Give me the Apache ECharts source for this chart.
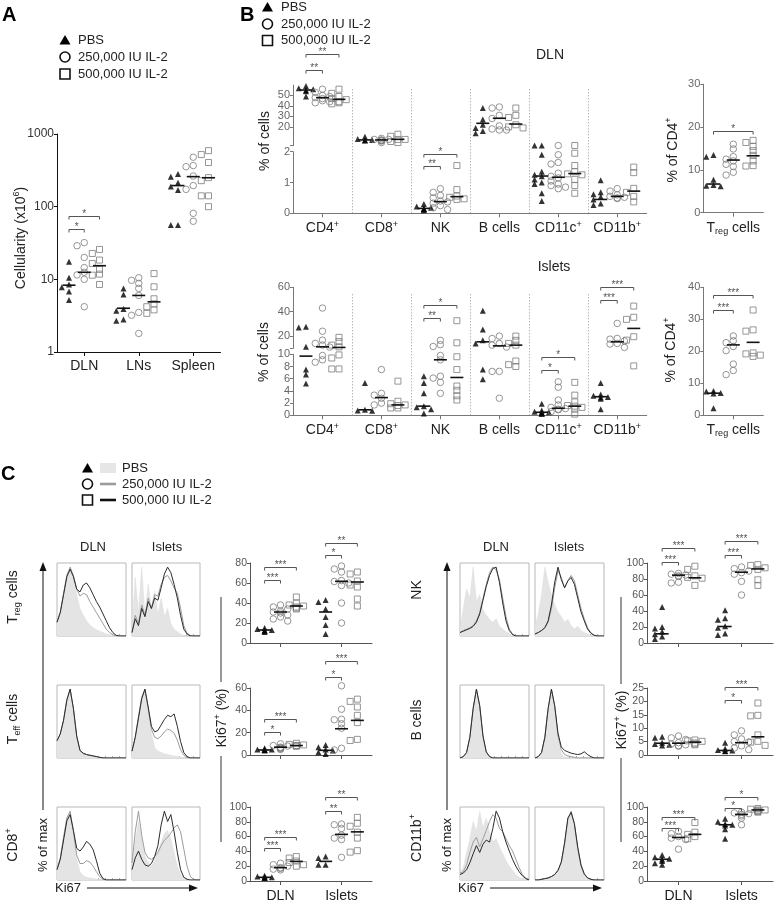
<!DOCTYPE html>
<html><head><meta charset="utf-8">
<script src="https://cdn.jsdelivr.net/npm/echarts@6/dist/echarts.min.js"></script>
<style>html,body{margin:0;padding:0;background:#fff}#c{width:776px;height:905px}</style>
</head><body><div id="c"></div>
<script>
// ================= DATA =================
const groupNames = ['PBS', '250,000 IU IL-2', '500,000 IU IL-2'];

// Panel A: cellularity (x10^6), per category
const aCats = ['DLN', 'LNs', 'Spleen'];
const aPBS = [[10.5, 17.5, 8.5, 7.8, 5.2, 6.8], [7.5, 6.2, 3.9, 3.7, 2.7, 2.8], [259, 282, 214, 189, 170, 56, 56]];
const a250 = [[32, 29, 20, 14.5, 12.5, 11.5, 10, 4.2], [10.5, 9.7, 8.8, 7.5, 6.0, 3.5, 3.2, 1.8], [479, 368, 355, 264, 195, 173, 81, 63]];
const a500 = [[25.8, 22.7, 18.4, 16.5, 13.7, 11.8, 11.4, 8.5], [12, 7.9, 5.4, 4.6, 4.2, 3.8, 3.4], [590, 521, 405, 251, 228, 141, 141, 100]];
const aMed = [[8.3, 12.5, 15.4], [4.0, 6.0, 4.9], [195, 259, 250]];
const aSig = [[0, 0, 1, 50, '*'], [0, 0, 2, 74, '*']];

// Panel B: % of cells
const bCats = ['CD4{s|+}', 'CD8{s|+}', 'NK', 'B cells', 'CD11c{s|+}', 'CD11b{s|+}'];
const dlnPBS = [[59, 57, 56, 55, 54, 49], [10.5, 8.5, 7.5, 7, 7.2], [0.3, 0.22, 0.18, 0.15, 0.14, 0.12, 0.1], [38, 27, 22, 19, 16, 14], [2.2, 2.2, 1.9, 1.35, 1.25, 1.2, 1.1, 1.0, 0.95, 0.65, 0.4], [1.07, 0.68, 0.62, 0.54, 0.45, 0.32, 0.27]];
const dln250 = [[56, 53, 50, 49, 48, 47, 45, 44, 43], [9, 8, 7.5, 7, 7, 6.5, 5, 8], [0.8, 0.68, 0.58, 0.5, 0.4, 0.37, 0.33, 0.25, 0.18, 0.12], [39, 38, 31, 28, 21, 18, 17, 17], [2.2, 1.9, 1.65, 1.6, 1.3, 1.2, 1.15, 1.05, 0.95, 0.9, 0.85, 0.8], [0.8, 0.72, 0.6, 0.55, 0.52, 0.5, 0.48]];
const dln500 = [[56, 52, 49, 47, 46, 44, 43, 42], [13, 11, 8, 6, 5, 8], [1.55, 0.77, 0.56, 0.52, 0.47, 0.45], [38, 31, 29, 22, 20, 19], [2.2, 1.95, 1.55, 1.35, 1.28, 1.25, 1.1, 0.9, 0.65], [1.5, 1.32, 0.81, 0.68, 0.55, 0.37]];
const dlnMed = [[55.2, 47.9, 46.3], [7.5, 7.5, 8.1], [0.16, 0.38, 0.54], [23.4, 28.2, 22.7], [1.21, 1.17, 1.29], [0.45, 0.55, 0.72]];
const dlnSig = [[0, 0, 1, 74, '**'], [0, 0, 2, 90, '**'], [2, 0, 1, 1.53, '**'], [2, 0, 2, 1.94, '*']];

const isPBS = [[27.7, 27, 11.2, 7.5, 6.7, 5.2], [5.3, 0.9, 0.8, 0.75], [6.4, 5.3, 3.6, 1.5, 1.3, 1.0, 0.3], [40.8, 25.5, 16.7, 14, 7.5, 5.9], [1.9, 0.8, 0.6, 0.5, 0.4, 0.35, 0.3, 0.25], [5.3, 3.4, 3.2, 3.0, 2.9, 2.7, 1.0]];
const is250 = [[43, 24, 16.7, 14, 12.7, 11, 9.8, 9.1, 8.7], [7.5, 3.6, 3.3, 2.8, 2.0, 1.7], [16.5, 13, 11.5, 9.8, 9.1, 6.4, 6.1, 5.4, 3.6], [20, 18, 14, 12.6, 11, 7.2, 7.2, 2.8], [5.5, 4.6, 2.5, 1.7, 1.3, 1.1, 1.0, 0.9, 0.6], [30.4, 18.1, 17.5, 16, 14, 13.5, 10.7]];
const is500 = [[19, 15.5, 12.6, 11.2, 9.9, 9.4, 7.6, 7.6], [5.6, 2.3, 1.9, 1.7, 1.6, 1.2, 1.2], [32.6, 14.5, 9.6, 7.5, 4.8, 4.1, 3.2, 2.5], [20, 16.5, 14, 12.6, 8.9, 8.3, 8.0], [5.4, 3.3, 2.2, 1.6, 1.5, 1.3, 1.0, 0.2], [44.6, 35.4, 33.7, 19.5, 16.7, 8.1]];
const isMed = [[9.7, 11.2, 10.7], [0.9, 2.9, 1.7], [1.5, 9.1, 6.2], [15.3, 12, 12.6], [0.5, 1.15, 1.5], [3.05, 15.3, 26.3]];
const isSig = [[2, 0, 1, 34.5, '**'], [2, 0, 2, 45.5, '*'], [4, 0, 1, 7.4, '*'], [4, 0, 2, 9.5, '*'], [5, 0, 1, 49.6, '***'], [5, 0, 2, 60.5, '***']];

// Treg % of CD4+
const tregCat = ['T{b|reg} cells'];
const tregDlnPBS = [[13.5, 13.1, 7.7, 6.5, 6.2, 6.3]];
const tregDln250 = [[16, 14.9, 13.1, 12.5, 12.1, 11.3, 10.8, 9.45, 8.8]];
const tregDln500 = [[16.9, 16.4, 15.5, 14.5, 13.4, 12.1, 11, 10.9]];
const tregDlnMed = [[6.7, 12.3, 13.3]];
const tregDlnSig = [[0, 0, 2, 19, '*']];
const tregIsPBS = [[7.6, 7.4, 7.0, 6.8, 2.2]];
const tregIs250 = [[24.8, 23.3, 22.7, 21.5, 20.2, 16, 14, 12.7]];
const tregIs500 = [[32.9, 26.7, 26.3, 19.5, 19.2, 18.4, 18.8]];
const tregIsMed = [[6.9, 22, 22.8]];
const tregIsSig = [[0, 0, 1, 33, '***'], [0, 0, 2, 37.7, '***']];

// Panel C: Ki67+ (%)
const cCats = ['DLN', 'Islets'];
const kTregPBS = [[15, 14, 13, 12.5, 12, 11], [43, 41, 34, 26, 18, 9]];
const kTreg250 = [[38, 36, 34, 32, 31, 30, 28, 26, 24, 22], [77, 74, 71, 62.5, 61.5, 60, 57.5, 40, 20]];
const kTreg500 = [[46, 40, 38, 37, 36, 35, 34], [71, 69, 62, 58, 56, 44, 37]];
const kTregMed = [[13, 31, 37], [31, 61.7, 61]];
const kTregSig = [[0, 0, 1, 63, '***'], [0, 0, 2, 76, '***'], [1, 0, 1, 88, '*'], [1, 0, 2, 100, '**']];

const kTeffPBS = [[6, 5, 4.5, 4, 4.5, 5], [9, 7, 5, 4, 2.5, 1]];
const kTeff250 = [[10, 8.5, 8, 7, 6.5, 6, 5.5, 5], [62, 41, 32, 31.6, 28, 24, 6, 4.5]];
const kTeff500 = [[10.5, 9.5, 9, 8.5, 8, 8], [50, 48, 43, 35.5, 29, 14, 13]];
const kTeffMed = [[4.5, 7, 8.5], [4.2, 23.5, 31]];
const kTeffSig = [[0, 0, 1, 21, '*'], [0, 0, 2, 32, '***'], [1, 0, 1, 70, '*'], [1, 0, 2, 84, '***']];

const kCD8PBS = [[7, 6, 5, 5, 4, 4.5], [33, 31, 22, 22]];
const kCD8250 = [[24, 22, 20, 18, 17, 16, 15], [77, 76, 71, 62, 58, 56, 32]];
const kCD8500 = [[33, 31, 27, 25, 22, 20], [86, 78, 74, 66, 58, 41, 39]];
const kCD8Med = [[5, 18, 26.5], [26.5, 63, 66.4]];
const kCD8Sig = [[0, 0, 1, 44.5, '***'], [0, 0, 2, 58.8, '***'], [1, 0, 1, 95, '**'], [1, 0, 2, 113, '**']];

const kNKPBS = [[45, 20, 18, 14, 11, 8, 5], [41, 31, 29, 21, 19, 12, 10]];
const kNK250 = [[87, 86, 85, 84, 83, 76, 75], [95, 93, 90, 88, 86, 77, 60]];
const kNK500 = [[96, 92, 84, 82, 81, 72], [98, 97, 94, 92, 79, 72]];
const kNKMed = [[11.5, 84.8, 81.5], [20.6, 88.5, 92.6]];
const kNKSig = [[0, 0, 1, 101, '***'], [0, 0, 2, 118.5, '***'], [1, 0, 1, 109.5, '***'], [1, 0, 2, 127, '***']];

const kBPBS = [[6.8, 6.4, 4.6, 4.1, 3.8, 3.5], [4.6, 2.3, 1.9, 1.7, 1.5, 1.4]];
const kB250 = [[7.1, 6.4, 5.8, 4.6, 4.1, 3.8, 3.5, 3.3], [9, 7.5, 6, 5, 4.8, 3.4, 2.6, 2]];
const kB500 = [[5.6, 5.3, 5.1, 4.5, 4.1, 3.8], [19.4, 14.6, 14.8, 7.5, 5.1, 4.8, 3.6]];
const kBMed = [[4.4, 4.4, 4.8], [1.7, 4.6, 6.8]];
const kBSig = [[1, 0, 1, 20.5, '*'], [1, 0, 2, 25.5, '***']];

const kMyPBS = [[35, 32, 30, 29, 27, 24, 22], [84, 80, 77, 76, 75, 70, 57]];
const kMy250 = [[67, 64, 60, 58, 56, 43], [93, 92, 91, 90, 88, 85, 76]];
const kMy500 = [[79, 66, 63, 60, 57], [98, 97, 96, 96, 95, 94, 93]];
const kMyMed = [[29.4, 58.8, 63], [76, 90, 96]];
const kMySig = [[0, 0, 1, 72, '***'], [0, 0, 2, 86, '***'], [1, 0, 1, 99, '*'], [1, 0, 2, 113, '*']];

// Histograms (% of max along Ki67): [PBS, 250k, 500k]
const hTregDln = [[20,35,62,90,100,85,60,40,30,22,16,12,9,7,5,3,2,1,0,0,0,0],[20,35,62,88,100,88,68,58,62,60,50,42,34,26,18,10,5,2,0,0,0,0],[20,34,60,86,97,86,68,64,74,77,70,60,50,42,32,22,12,5,1,0,0,0]];
const hTregIs = [[10,85,35,100,30,75,40,65,30,55,28,40,18,10,6,3,1,0,0,0,0,0],[5,30,18,45,30,55,40,60,58,75,85,88,80,70,62,40,15,4,1,0,0,0],[5,25,15,40,28,50,40,55,52,70,90,100,92,75,55,30,10,3,0,0,0,0]];
const hTeffDln = [[25,35,55,85,100,70,30,10,6,5,4,3,2,1,0,0,0,0,0,0,0,0],[25,35,55,85,100,71,31,11,6,5,4,3,2,1,0,0,0,0,0,0,0,0],[25,35,55,84,100,72,32,11,7,5,4,3,2,1,0,0,0,0,0,0,0,0]];
const hTeffIs = [[10,30,60,88,100,70,35,15,10,8,6,5,4,3,2,1,0,0,0,0,0,0],[10,30,60,88,100,72,42,30,28,32,38,42,40,36,26,12,4,1,0,0,0,0],[10,30,58,86,100,74,46,38,40,48,56,62,60,64,46,24,8,2,0,0,0,0]];
const hCD8Dln = [[15,32,62,90,100,68,30,12,6,4,3,2,1,0,0,0,0,0,0,0,0,0],[15,32,62,90,100,70,36,24,24,28,26,20,12,5,1,0,0,0,0,0,0,0],[15,30,58,86,95,72,46,42,48,56,52,44,28,10,2,0,0,0,0,0,0,0]];
const hCD8Is = [[20,55,85,60,35,25,20,28,40,55,68,72,60,40,20,8,3,1,0,0,0,0],[25,70,100,65,40,32,30,34,40,50,58,62,68,76,80,70,45,20,5,1,0,0],[15,32,42,30,22,20,24,34,50,80,100,85,95,70,40,15,4,1,0,0,0,0]];
const hNKDln = [[10,40,68,55,100,50,60,38,30,24,20,25,14,10,6,3,1,0,0,0,0,0],[5,8,10,12,15,22,34,55,75,92,100,96,82,55,28,10,3,0,0,0,0,0],[5,7,9,11,14,20,32,52,72,88,98,100,78,48,22,8,2,0,0,0,0,0]];
const hNKIs = [[15,32,60,100,78,60,45,35,28,20,24,15,10,14,8,5,3,1,0,0,0,0],[3,5,8,12,20,40,70,95,85,70,80,88,80,60,40,25,12,5,1,0,0,0],[3,5,8,12,22,45,78,100,82,70,80,85,75,55,35,22,10,4,1,0,0,0]];
const hBDln = [[0,2,8,30,72,100,75,30,8,2,0,0,0,0,0,0,0,0,0,0,0,0],[0,2,8,30,72,100,76,31,8,2,0,0,0,0,0,0,0,0,0,0,0,0],[0,2,8,30,72,100,76,32,9,2,0,0,0,0,0,0,0,0,0,0,0,0]];
const hBIs = [[0,2,8,30,72,100,72,26,6,1,0,0,0,0,0,0,0,0,0,0,0,0],[0,2,8,30,72,100,75,32,12,5,3,2,1,0,0,0,0,0,0,0,0,0],[0,2,8,30,72,100,76,36,16,11,9,7,6,5,6,9,5,2,0,0,0,0]];
const hMyDln = [[10,18,40,60,85,70,100,75,90,70,55,60,48,38,28,20,14,8,4,2,1,0],[10,12,22,40,55,62,48,60,72,85,95,90,75,70,60,50,42,30,18,8,3,1],[8,10,15,25,38,50,40,52,58,55,75,100,90,70,55,42,30,20,12,6,2,0]];
const hMyIs = [[0,0,1,2,3,5,8,14,25,50,85,100,78,45,20,8,3,1,0,0,0,0],[0,0,1,2,3,5,8,14,26,52,88,100,80,46,20,8,3,1,0,0,0,0],[0,0,1,2,3,5,8,14,26,54,90,98,82,48,22,9,3,1,0,0,0,0]];

// ================= BUILD =================
const F = "'Liberation Sans', Arial, Helvetica, sans-serif";
const RICH = {
  s: {fontSize: 9, fontFamily: F, color: '#222', verticalAlign: 'top', lineHeight: 6},
  b: {fontSize: 9, fontFamily: F, color: '#222', verticalAlign: 'bottom', lineHeight: 6}
};
const grids = [], xAxes = [], yAxes = [], series = [], graphics = [];

function mk(o) {
  const i = grids.length; o.i = i;
  const ac = o.ac || '#666', lc = o.lc || '#555';
  grids.push({left: o.left, top: o.top, width: o.width, height: o.height, containLabel: false, outerBoundsMode: 'none',
    show: !!o.border, borderColor: '#b8b8b8', borderWidth: 1, backgroundColor: 'rgba(0,0,0,0)'});
  xAxes.push({gridIndex: i, type: 'value', min: o.xmin, max: o.xmax, position: 'bottom', show: o.showX !== false,
    axisLine: {show: !o.border, onZero: false, lineStyle: {color: ac, width: 1}},
    axisTick: {show: !!o.xTicks, customValues: o.xTicks, length: o.border ? 2 : 4, inside: !!o.border, lineStyle: {color: o.border ? '#aaa' : ac}},
    axisLabel: {show: !!o.xLabels, customValues: o.xTicks, formatter: v => o.xLabels ? o.xLabels[Math.round(v)] : '',
      margin: o.xMargin || 7, fontFamily: F, fontSize: o.xFont || 14, color: '#222', lineHeight: 16, rich: RICH},
    splitLine: {show: false}, minorTick: {show: false}});
  yAxes.push({gridIndex: i, type: o.log ? 'log' : 'value', logBase: 10, min: o.ymin, max: o.ymax, show: o.showY !== false,
    axisLine: {show: true, onZero: false, lineStyle: {color: ac, width: 1}},
    axisTick: {show: true, customValues: o.yTicks, length: 3, lineStyle: {color: ac}},
    axisLabel: {show: true, customValues: o.yLabels, formatter: v => String(v), margin: 3, fontFamily: F, fontSize: o.yFont || 11, color: lc},
    splitLine: {show: false}, minorTick: {show: false}});
  return o;
}

function yPx(m, v) {
  if (m.log) { const a = Math.log10(m.ymin), b = Math.log10(m.ymax); return (Math.log10(v) - a) / (b - a) * m.height; }
  return (v - m.ymin) / (m.ymax - m.ymin) * m.height;
}
function swarm(m, vals) {
  const pxPerX = m.width / (m.xmax - m.xmin);
  const order = vals.map((v, i) => i).sort((a, b) => vals[b] - vals[a]);
  const placed = [], offs = new Array(vals.length).fill(0);
  const steps = [0, -1, 1, -2, 2, -3, 3];
  order.forEach(i => {
    const py = yPx(m, vals[i]);
    for (const s of steps) {
      const px = s * 3.6;
      if (placed.every(p => Math.abs(p[0] - px) >= 4.2 || Math.abs(p[1] - py) >= 4.2)) { placed.push([px, py]); offs[i] = px / pxPerX; return; }
    }
  });
  return offs;
}
const SYM = [
  {symbol: 'triangle', size: 6, style: {color: '#000'}},
  {symbol: 'circle', size: 6.5, style: {color: 'rgba(0,0,0,0)', borderColor: '#7c7c7c', borderWidth: 1}},
  {symbol: 'rect', size: 6, style: {color: 'rgba(0,0,0,0)', borderColor: '#7c7c7c', borderWidth: 1}}
];
const medStore = {}, sigStore = {};
function pick(mU, mL, split, v) { return (!mL || v > split) ? mU : mL; }
function dotPanel(mU, mL, split, sets, meds, sigs, xoff) {
  sets.forEach((byCat, g) => byCat.forEach((vals, c) => {
    const buckets = new Map();
    vals.forEach(v => { const m = pick(mU, mL, split(c), v); if (!buckets.has(m)) buckets.set(m, []); buckets.get(m).push(v); });
    buckets.forEach((vs, m) => {
      const offs = swarm(m, vs);
      series.push({type: 'scatter', xAxisIndex: m.i, yAxisIndex: m.i, symbol: SYM[g].symbol, symbolSize: SYM[g].size,
        itemStyle: SYM[g].style, data: vs.map((v, k) => [c + xoff[g] + offs[k], v]), clip: false, silent: true, z: 3});
    });
  }));
  meds.forEach((row, c) => row.forEach((v, g) => { const m = pick(mU, mL, split(c), v); (medStore[m.i] = medStore[m.i] || []).push([c + xoff[g], v]); }));
  sigs.forEach(s => { const [c, g1, g2, y, t] = s; const m = pick(mU, mL, split(c), y); (sigStore[m.i] = sigStore[m.i] || []).push([c + xoff[g1], c + xoff[g2], y, t]); });
}
function finalize() {
  Object.keys(medStore).forEach(k => {
    series.push({type: 'custom', xAxisIndex: +k, yAxisIndex: +k, data: medStore[k], clip: false, silent: true, z: 6,
      renderItem: (p, api) => { const c = api.coord([api.value(0), api.value(1)]);
        return {type: 'line', shape: {x1: c[0] - 6.5, y1: c[1], x2: c[0] + 6.5, y2: c[1]}, style: {stroke: '#111', lineWidth: 1.6}}; }});
  });
  Object.keys(sigStore).forEach(k => {
    const d = sigStore[k];
    series.push({type: 'custom', xAxisIndex: +k, yAxisIndex: +k, data: d.map(s => [s[0], s[2]]), clip: false, silent: true, z: 6,
      renderItem: (p, api) => {
        const s = d[p.dataIndex]; const a = api.coord([s[0], s[2]]), b = api.coord([s[1], s[2]]); const y = Math.round(a[1]) + 0.5;
        return {type: 'group', children: [
          {type: 'polyline', shape: {points: [[a[0], y + 3], [a[0], y], [b[0], y], [b[0], y + 3]]}, style: {stroke: '#555', lineWidth: 1, fill: null}},
          {type: 'text', style: {text: s[3], x: (a[0] + b[0]) / 2, y: y + 3, textAlign: 'center', textVerticalAlign: 'bottom', align: 'center', verticalAlign: 'bottom', fill: '#555', fontSize: 10, fontFamily: F}}
        ]};
      }});
  });
}
function separators(m, n) {
  const d = []; for (let k = 0; k < n - 1; k++) d.push([k + 0.5, 0]);
  series.push({type: 'custom', xAxisIndex: m.i, yAxisIndex: m.i, data: d, silent: true, z: 1,
    renderItem: (p, api) => { const a = api.coord([api.value(0), 0]), b = api.coord([api.value(0), 1]);
      return {type: 'line', shape: {x1: Math.round(a[0]) + 0.5, y1: a[1], x2: Math.round(a[0]) + 0.5, y2: b[1]}, style: {stroke: '#999', lineWidth: 1, lineDash: [1, 2]}}; }});
}
const HT = [0.1, 0.2, 0.3, 0.4, 0.5, 0.6, 0.7, 0.8, 0.9];
function hist(left, top, w, h, curves) {
  const m = mk({left, top, width: w, height: h, xmin: 0, xmax: 1, ymin: 0, ymax: 106, border: true, xTicks: HT, showY: false});
  const xy = arr => arr.map((v, k) => [k / (arr.length - 1), v]);
  const st = [
    {lineStyle: {width: 0.5, color: '#dcdcdc'}, areaStyle: {color: '#e4e4e4', opacity: 1}, z: 1},
    {lineStyle: {width: 1, color: '#9c9c9c'}, z: 2},
    {lineStyle: {width: 1, color: '#2a2a2a'}, z: 3}
  ];
  curves.forEach((c, g) => series.push(Object.assign({type: 'line', xAxisIndex: m.i, yAxisIndex: m.i, data: xy(c), symbol: 'none', showSymbol: false, silent: true, smooth: false}, st[g])));
}

// ---- Panel A ----
const XO = [-0.28, 0, 0.28];
const mA = mk({left: 57, top: 134, width: 163.5, height: 218, xmin: -0.5, xmax: 2.5, log: true, ymin: 1, ymax: 1000,
  yTicks: [1, 10, 100, 1000], yLabels: [1, 10, 100, 1000], xTicks: [0, 1, 2], xLabels: aCats, ac: '#111', lc: '#333', yFont: 12, xFont: 14, xMargin: 6});
dotPanel(mA, null, () => 0, [aPBS, a250, a500], aMed, aSig, XO);

// ---- Panel B (DLN) ----
const mBF = mk({left: 293, top: 89, width: 353.7, height: 124.3, xmin: -0.5, xmax: bCats.length - 0.5, ymin: 0, ymax: 1, showX: false, showY: false});
separators(mBF, bCats.length);
const mBU = mk({left: 293, top: 85, width: 353.7, height: 60.7, xmin: -0.5, xmax: bCats.length - 0.5, ymin: 2, ymax: 60,
  yTicks: [2, 10, 20, 30, 40, 50, 60], yLabels: [10, 20, 30, 40, 50, 60], showX: false, ac: '#777', lc: '#666'});
const mBL = mk({left: 293, top: 151.7, width: 353.7, height: 61.6, xmin: -0.5, xmax: bCats.length - 0.5, ymin: 0, ymax: 2,
  yTicks: [0, 1, 2], yLabels: [0, 1, 2], xTicks: bCats.map((c, i) => i), xLabels: bCats, ac: '#777', lc: '#666'});
const dlnLow = c => (Math.max(...dlnPBS[c], ...dln250[c], ...dln500[c]) < 3 ? Infinity : -Infinity);
dotPanel(mBU, mBL, dlnLow, [dlnPBS, dln250, dln500], dlnMed, dlnSig, XO);
const mBT = mk({left: 703.3, top: 84.3, width: 60, height: 128.4, xmin: -0.5, xmax: 0.5, ymin: 0, ymax: 30,
  yTicks: [0, 10, 20, 30], yLabels: [0, 10, 20, 30], xTicks: [0], xLabels: tregCat, ac: '#777', lc: '#666'});
dotPanel(mBT, null, () => 0, [tregDlnPBS, tregDln250, tregDln500], tregDlnMed, tregDlnSig, [-0.33, 0, 0.33]);

// ---- Panel B (Islets) ----
const mIF = mk({left: 293, top: 293, width: 353.7, height: 122.3, xmin: -0.5, xmax: bCats.length - 0.5, ymin: 0, ymax: 1, showX: false, showY: false});
separators(mIF, bCats.length);
const mIU = mk({left: 293, top: 287.3, width: 353.7, height: 61, xmin: -0.5, xmax: bCats.length - 0.5, ymin: 10, ymax: 60,
  yTicks: [10, 20, 40, 60], yLabels: [20, 40, 60], showX: false, ac: '#777', lc: '#666'});
const mIL = mk({left: 293, top: 354.3, width: 353.7, height: 61, xmin: -0.5, xmax: bCats.length - 0.5, ymin: 0, ymax: 10,
  yTicks: [0, 2, 4, 6, 8, 10], yLabels: [0, 2, 4, 6, 8, 10], xTicks: bCats.map((c, i) => i), xLabels: bCats, ac: '#777', lc: '#666'});
dotPanel(mIU, mIL, () => 10, [isPBS, is250, is500], isMed, isSig, XO);
const mIT = mk({left: 703.3, top: 287.3, width: 60, height: 128, xmin: -0.5, xmax: 0.5, ymin: 0, ymax: 40,
  yTicks: [0, 10, 20, 30, 40], yLabels: [0, 10, 20, 30, 40], xTicks: [0], xLabels: tregCat, ac: '#777', lc: '#666'});
dotPanel(mIT, null, () => 0, [tregIsPBS, tregIs250, tregIs500], tregIsMed, tregIsSig, [-0.33, 0, 0.33]);

// ---- Panel C histograms ----
const histRowsTop = [563, 685, 807];
[[hTregDln, hTregIs], [hTeffDln, hTeffIs], [hCD8Dln, hCD8Is]].forEach((r, k) => { hist(57, histRowsTop[k], 69, 73, r[0]); hist(132, histRowsTop[k], 68, 73, r[1]); });
[[hNKDln, hNKIs], [hBDln, hBIs], [hMyDln, hMyIs]].forEach((r, k) => { hist(460, histRowsTop[k], 69, 73, r[0]); hist(535, histRowsTop[k], 69, 73, r[1]); });

// ---- Panel C dot plots ----
const CX = [-0.26, 0, 0.26];
const cRows = [{top: 563, h: 80}, {top: 688, h: 67}, {top: 807, h: 74}];
const leftSpecs = [
  {sets: [kTregPBS, kTreg250, kTreg500], med: kTregMed, sig: kTregSig, max: 80, step: 20},
  {sets: [kTeffPBS, kTeff250, kTeff500], med: kTeffMed, sig: kTeffSig, max: 60, step: 20},
  {sets: [kCD8PBS, kCD8250, kCD8500], med: kCD8Med, sig: kCD8Sig, max: 100, step: 20}
];
const rightSpecs = [
  {sets: [kNKPBS, kNK250, kNK500], med: kNKMed, sig: kNKSig, max: 100, step: 20},
  {sets: [kBPBS, kB250, kB500], med: kBMed, sig: kBSig, max: 25, step: 5},
  {sets: [kMyPBS, kMy250, kMy500], med: kMyMed, sig: kMySig, max: 100, step: 20}
];
function ticks(max, step) { const t = []; for (let v = 0; v <= max; v += step) t.push(v); return t; }
[[250, 122, leftSpecs], [647, 126, rightSpecs]].forEach(([left, w, specs]) => specs.forEach((s, k) => {
  const t = ticks(s.max, s.step);
  const m = mk({left, top: cRows[k].top, width: w, height: cRows[k].h, xmin: -0.5, xmax: cCats.length - 0.5, ymin: 0, ymax: s.max,
    yTicks: t, yLabels: t, xTicks: cCats.map((c, i) => i), xLabels: k === 2 ? cCats : null, ac: '#555', lc: '#555', yFont: 10.5, xFont: 14, xMargin: 7});
  dotPanel(m, null, () => 0, s.sets, s.med, s.sig, CX);
}));
finalize();

// ================= GRAPHIC TEXT / LEGENDS =================
function richFor(size) {
  const t = Math.round(size * 0.66);
  return {
    s: {fontSize: t, fontFamily: F, fill: '#222', color: '#222', verticalAlign: 'top', lineHeight: Math.round(size * 0.4)},
    b: {fontSize: t, fontFamily: F, fill: '#222', color: '#222', verticalAlign: 'bottom', lineHeight: Math.round(size * 0.4)}
  };
}
function txt(x, y, text, size, o = {}) {
  graphics.push({type: 'text', x, y, rotation: o.rot || 0, z: 50, silent: true,
    style: {text, x: 0, y: 0, fill: o.color || '#222', fontSize: size, fontFamily: F, fontWeight: o.bold ? 'bold' : 'normal',
      align: o.align || 'center', verticalAlign: o.va || 'middle', textAlign: o.align || 'center', textVerticalAlign: o.va || 'middle',
      lineHeight: size + 4, rich: richFor(size), backgroundColor: o.bg || 'transparent', padding: o.pad || 0}});
}
function line(x1, y1, x2, y2, color = '#111', w = 1) { graphics.push({type: 'line', silent: true, z: 49, shape: {x1, y1, x2, y2}, style: {stroke: color, lineWidth: w}}); }
function poly(points, fill) { graphics.push({type: 'polygon', silent: true, z: 50, shape: {points}, style: {fill, stroke: null}}); }
function legTri(cx, cy) { poly([[cx, cy - 5], [cx - 5.5, cy + 4.5], [cx + 5.5, cy + 4.5]], '#000'); }
function legCirc(cx, cy) { graphics.push({type: 'circle', silent: true, z: 50, shape: {cx, cy, r: 5}, style: {fill: 'none', stroke: '#111', lineWidth: 1.6}}); }
function legRect(cx, cy) { graphics.push({type: 'rect', silent: true, z: 50, shape: {x: cx - 5, y: cy - 5, width: 10, height: 10}, style: {fill: 'none', stroke: '#111', lineWidth: 1.6}}); }
const ROT = Math.PI / 2;

// panel letters
txt(2, 3, 'A', 20, {bold: true, align: 'left', va: 'top', color: '#000'});
txt(240, 3, 'B', 20, {bold: true, align: 'left', va: 'top', color: '#000'});
txt(1, 462, 'C', 20, {bold: true, align: 'left', va: 'top', color: '#000'});

// legend A
legTri(65, 40); legCirc(65, 57); legRect(65, 74);
[40, 57, 74].forEach((y, g) => txt(78, y, groupNames[g], 13, {align: 'left'}));
// legend B
legTri(267.5, 7); legCirc(267.5, 24); legRect(267.5, 40.5);
[7, 24, 40.5].forEach((y, g) => txt(281, y, groupNames[g], 13, {align: 'left'}));
// legend C
legTri(87.5, 468); legCirc(87.5, 484); legRect(87.5, 500);
graphics.push({type: 'rect', silent: true, z: 50, shape: {x: 100, y: 463, width: 16, height: 10}, style: {fill: '#e6e6e6'}});
line(100, 484, 116, 484, '#9c9c9c', 2.6); line(100, 500, 116, 500, '#111', 2.6);
[468, 484, 500].forEach((y, g) => txt(122, y, groupNames[g], 13, {align: 'left'}));

// axis titles
txt(21, 238, 'Cellularity (x10{s|6})', 14, {rot: ROT});
txt(265, 141, '% of cells', 14, {rot: ROT});
txt(264, 352, '% of cells', 14, {rot: ROT});
txt(673, 150, '% of CD4{s|+}', 14, {rot: ROT});
txt(671, 350, '% of CD4{s|+}', 14, {rot: ROT});
txt(550, 55, 'DLN', 14);
txt(554, 267, 'Islets', 14);

// C titles
txt(93, 547, 'DLN', 13); txt(167, 547, 'Islets', 13);
txt(496, 547, 'DLN', 13); txt(569, 547, 'Islets', 13);
txt(13, 597, 'T{b|reg} cells', 14, {rot: ROT});
txt(13, 719, 'T{b|eff} cells', 14, {rot: ROT});
txt(13, 845, 'CD8{s|+}', 14, {rot: ROT});
txt(417, 590, 'NK', 14, {rot: ROT});
txt(417, 720, 'B cells', 14, {rot: ROT});
txt(417, 838, 'CD11b{s|+}', 14, {rot: ROT});

// arrows
[[43, 55, 87, 198], [447, 458, 490, 602]].forEach(([ax, kx, hx1, hx2]) => {
  line(ax, 570, ax, 810, '#111', 1);
  poly([[ax, 562], [ax - 3.5, 571], [ax + 3.5, 571]], '#111');
  txt(ax, 845, '% of max', 13, {rot: ROT});
  txt(kx, 888, 'Ki67', 13, {align: 'left'});
  line(hx1, 888, hx2 - 8, 888, '#111', 1);
  poly([[hx2, 888], [hx2 - 9, 884.5], [hx2 - 9, 891.5]], '#111');
});
// Ki67+ (%) labels
[[221, 718], [621, 720]].forEach(([x, y]) => {
  line(x, 597, x, y - 36, '#333', 1);
  line(x, y + 38, x, 842, '#333', 1);
  txt(x + 1, y, 'Ki67{s|+} (%)', 14, {rot: ROT});
});

const chart = echarts.init(document.getElementById('c'), null, {renderer: 'canvas'});
chart.setOption({animation: false, backgroundColor: '#fff', tooltip: {show: false},
  grid: grids, xAxis: xAxes, yAxis: yAxes, series, graphic: {elements: graphics}});
</script></body></html>
